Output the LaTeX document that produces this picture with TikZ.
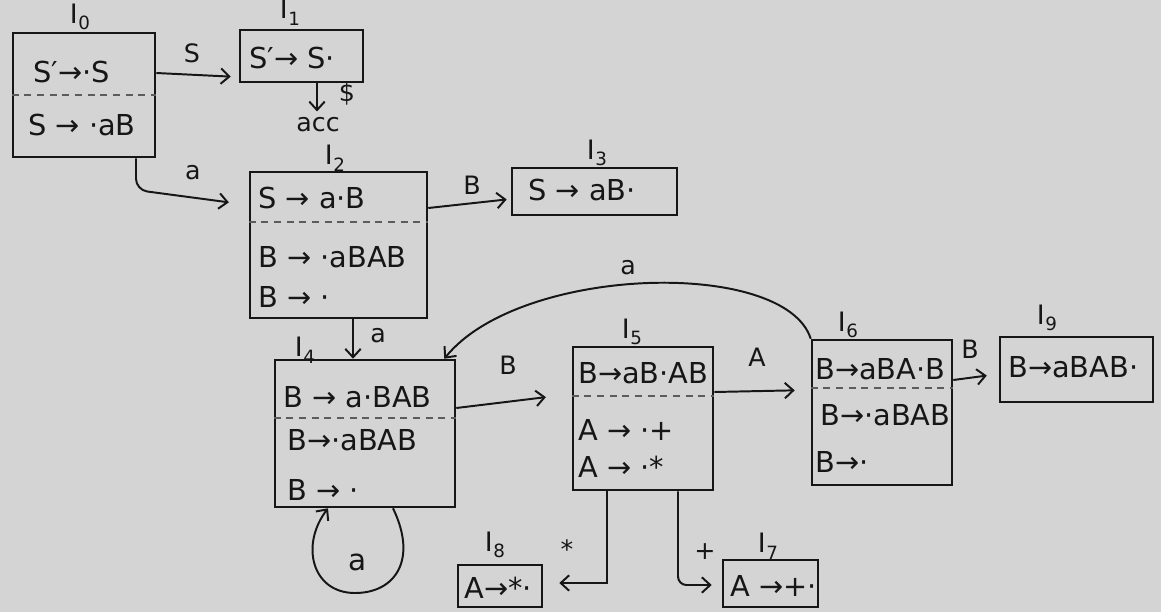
\documentclass[tikz,border=0pt]{standalone}
\usepackage{fontspec}
\setmainfont{DejaVu Sans}
\usetikzlibrary{arrows.meta}
\definecolor{paper}{RGB}{212,212,212}
\definecolor{ink}{RGB}{22,22,22}
\tikzset{
  box/.style={draw=ink, line width=1.8pt, inner sep=0pt},
  item/.style={anchor=west, inner sep=0pt, font=\fontsize{20.5}{24}\selectfont, text=ink},
  setlab/.style={inner sep=0pt, font=\fontsize{19}{22}\selectfont, text=ink},
  elab/.style={inner sep=0pt, font=\fontsize{18}{20}\selectfont, text=ink},
  arr/.style={draw=ink, line width=1.4pt, -{Straight Barb[length=6pt,width=11pt]}},
  sep/.style={draw=ink!70, line width=0.9pt, dash pattern=on 5pt off 4pt},
}
\newcommand\Ilab[1]{I\kern0.5pt\raisebox{-0.45ex}{\fontsize{13}{15}\selectfont #1}}
\begin{document}
\begin{tikzpicture}[x=0.025cm,y=-0.025cm]
\fill[paper] (0,0) rectangle (1161,612);
\useasboundingbox (0,0) rectangle (1161,612);

% ---------- state boxes ----------
\node[box, minimum width=3.55cm,  minimum height=3.1cm]   (i0) at (84,95) {};
\node[box, minimum width=3.075cm, minimum height=1.3cm]   (i1) at (301.5,56) {};
\node[box, minimum width=4.425cm, minimum height=3.65cm]  (i2) at (338.5,245) {};
\node[box, minimum width=4.125cm, minimum height=1.175cm] (i3) at (594.5,191.5) {};
\node[box, minimum width=4.5cm,   minimum height=3.675cm] (i4) at (365,433.5) {};
\node[box, minimum width=3.5cm,   minimum height=3.575cm] (i5) at (643,418.5) {};
\node[box, minimum width=3.5cm,   minimum height=3.625cm] (i6) at (882,412.5) {};
\node[box, minimum width=3.825cm, minimum height=1.625cm] (i9) at (1076.5,369.5) {};
\node[box, minimum width=2.1cm,   minimum height=1.05cm]  (i8) at (500,586) {};
\node[box, minimum width=2.375cm, minimum height=1.175cm] (i7) at (770.5,583.5) {};

% ---------- set labels ----------
\node[setlab] (l0) at (80,17)   {\Ilab{0}};
\node[setlab] (l1) at (290,12)  {\Ilab{1}};
\node[setlab] (l2) at (335,158) {\Ilab{2}};
\node[setlab] (l3) at (597,153) {\Ilab{3}};
\node[setlab] (l4) at (305,350) {\Ilab{4}};
\node[setlab] (l5) at (632,332) {\Ilab{5}};
\node[setlab] (l6) at (848,325) {\Ilab{6}};
\node[setlab] (l9) at (1047,318) {\Ilab{9}};
\node[setlab] (l8) at (495,545) {\Ilab{8}};
\node[setlab] (l7) at (768,546) {\Ilab{7}};

% ---------- items ----------
\node[item] (a01) at (33,72)   {S′→·S};
\node[item] (a02) at (28,125)  {S → ·aB};
\draw[sep] (i0.west |- 0,95) -- (i0.east |- 0,95);

\node[item] (a11) at (249,58)  {S′→ S·};

\node[item] (a21) at (258,198) {S → a·B};
\node[item] (a22) at (258,257) {B → ·aBAB};
\node[item] (a23) at (258,297) {B → ·};
\draw[sep] (i2.west |- 0,222) -- (i2.east |- 0,222);

\node[item] (a31) at (528,190) {S → aB·};

\node[item] (a41) at (283,397) {B → a·BAB};
\node[item] (a42) at (287,440) {B→·aBAB};
\node[item] (a43) at (287,490) {B → ·};
\draw[sep] (i4.west |- 0,418) -- (i4.east |- 0,418);

\node[item] (a51) at (578,373) {B→aB·AB};
\node[item] (a52) at (578,430) {A → ·+};
\node[item] (a53) at (578,467) {A → ·*};
\draw[sep] (i5.west |- 0,396) -- (i5.east |- 0,396);

\node[item] (a61) at (815,369) {B→aBA·B};
\node[item] (a62) at (820,415) {B→·aBAB};
\node[item] (a63) at (815,462) {B→·};
\draw[sep] (i6.west |- 0,388) -- (i6.east |- 0,388);

\node[item] (a91) at (1008,367) {B→aBAB·};
\node[item] (a81) at (464,588) {A→*·};
\node[item] (a71) at (730,586) {A →+·};

% ---------- transitions ----------
\draw[arr, shorten >=2mm] (i0.east |- 0,73) -- (i1.west |- 0,77);
\node[elab] (eS) at (192,53) {S};

\draw[arr, rounded corners=8pt, shorten >=5mm] (i0.south -| 136,0) -- (136,190) -- (i2.west |- 0,205);
\node[elab] (ea0) at (193,173) {a};

\node[elab] (acc) at (318,125) {acc};
\node[elab] (dol) at (347,94) {\$};
\draw[arr, shorten >=1.5mm] (i1.south -| 317,0) -- (acc.north -| 317,0);

\draw[arr, shorten >=1mm] (i2.east |- 0,208) -- (i3.west |- 0,199);
\node[elab] (eB2) at (472,185) {B};

\draw[arr] (i2.south -| 353,0) -- (i4.north -| 353,0);
\node[elab] (ea2) at (378,336) {a};

\draw[arr] (i4.south -| 393,0) .. controls (418,560) and (395,593) .. (355,593)
  .. controls (312,593) and (300,545) .. (i4.south -| 328,0);
\node[elab, font=\fontsize{21}{24}\selectfont] (eloop) at (358,562) {a};

\draw[arr, shorten >=6.5mm] (i4.east |- 0,408) -- (i5.west |- 0,394);
\node[elab] (eB4) at (508,365) {B};

\draw[arr] (i6.north west) .. controls (785,258) and (520,265) .. ([xshift=-3mm]i4.north east);
\node[elab] (ea6) at (628,268) {a};

\draw[arr, shorten >=4mm] (i5.east |- 0,392) -- (i6.west |- 0,390);
\node[elab] (eA5) at (757,357) {A};

\draw[arr, shorten >=3mm] (i6.east |- 0,380) -- (i9.west |- 0,374);
\node[elab] (eB6) at (970,349) {B};

\draw[arr, shorten >=4mm] (i5.south -| 607,0) |- (i8.east |- 0,583);
\node[elab] (est) at (567,549) {*};

\draw[arr, rounded corners=6pt, shorten >=2.5mm] (i5.south -| 678,0) |- (i7.west |- 0,585);
\node[elab] (epl) at (705,552) {+};
\end{tikzpicture}
\end{document}
